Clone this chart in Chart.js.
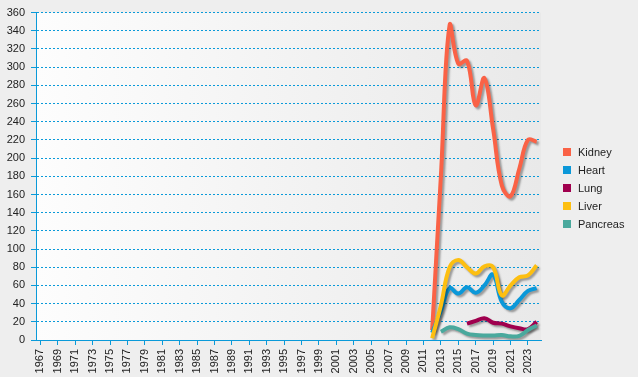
<!DOCTYPE html>
<html>
<head>
  <title>Organ Transplants</title>
  <script src="https://cdn.jsdelivr.net/npm/chart.js"></script>
  <style>
    html, body {
      margin: 0;
      padding: 0;
      background-color: #eeeeee;
      font-family: 'Liberation Sans', Arial, sans-serif;
    }

    .chart-container {
      position: relative;
      width: 638px;
      height: 377px;
    }

    .legend-container {
      position: absolute;
      left: 563px;
      top: 143px;
    }

    .legend-item {
      display: flex;
      align-items: center;
      height: 18px;
      font-size: 11px;
      color: #222;
    }

    .legend-color {
      width: 8px;
      height: 8px;
      margin-right: 7px;
    }
  </style>
</head>
<body>
  <div class="chart-container">
    <canvas id="organChart"></canvas>
    <div class="legend-container" id="legendContainer"></div>
  </div>

  <script>
    // Categories: one per year, labels shown on every other year
    const years = [];
    for (let y = 1967; y <= 2024; y++) years.push(String(y));

    // Values, each series starts at the given year
    const kidneyStart = 2012;
    const kidney = [11, 180, 346, 304, 307, 258, 288, 232, 170, 158, 188, 220, 218];
    const heartStart = 2012;
    const heart = [8, 32, 57, 51, 58, 52, 60, 72, 42, 35, 44, 54, 57];
    const lungStart = 2016;
    const lung = [18, 21, 24, 19, 18, 15, 13, 12, 20];
    const liverStart = 2012;
    const liver = [2, 38, 80, 88, 80, 73, 81, 80, 49, 60, 69, 71, 82];
    const pancreasStart = 2013;
    const pancreas = [9, 14, 12, 7, 5.5, 5, 5, 5.5, 4, 4.5, 11, 16];

    const seriesNames = ["Kidney", "Heart", "Lung", "Liver", "Pancreas"];
    const seriesColors = ["#fa6246", "#0b98d9", "#a0004e", "#fdbf11", "#4aa99d"];

    // place a series onto the year axis, empty before its first year
    function onYears(start, values) {
      const out = years.map(() => null);
      const first = years.indexOf(String(start));
      values.forEach((v, i) => { out[first + i] = v; });
      return out;
    }

    const seriesData = [
      onYears(kidneyStart, kidney),
      onYears(heartStart, heart),
      onYears(lungStart, lung),
      onYears(liverStart, liver),
      onYears(pancreasStart, pancreas)
    ];

    const blue = '#0a9ad9';

    // light gradient behind the plot area
    const plotBackground = {
      id: 'plotBackground',
      beforeDraw(chart) {
        const { ctx, chartArea } = chart;
        const g = ctx.createLinearGradient(chartArea.left, 0, chartArea.right, 0);
        g.addColorStop(0, '#fdfdfd');
        g.addColorStop(1, '#e9e9e9');
        ctx.save();
        ctx.fillStyle = g;
        ctx.fillRect(chartArea.left, chartArea.top, chartArea.right - chartArea.left, chartArea.bottom - chartArea.top);
        ctx.restore();
      }
    };

    // grey drop shadow under each line
    const lineShadow = {
      id: 'lineShadow',
      beforeDatasetDraw(chart) {
        const ctx = chart.ctx;
        ctx.save();
        ctx.shadowColor = 'rgba(0,0,0,0.35)';
        ctx.shadowBlur = 2;
        ctx.shadowOffsetX = 2;
        ctx.shadowOffsetY = 2;
      },
      afterDatasetDraw(chart) {
        chart.ctx.restore();
      }
    };

    const datasets = seriesNames.map((name, i) => ({
      label: name,
      data: seriesData[i],
      borderColor: seriesColors[i],
      backgroundColor: seriesColors[i],
      borderWidth: 4,
      pointRadius: 0,
      tension: 0.4,
      fill: false,
      order: seriesNames.length - i
    }));

    const ctx = document.getElementById('organChart').getContext('2d');

    new Chart(ctx, {
      type: 'line',
      data: { labels: years, datasets: datasets },
      plugins: [plotBackground, lineShadow],
      options: {
        responsive: true,
        maintainAspectRatio: false,
        animation: false,
        layout: { padding: { top: 12, right: 97, left: 0, bottom: 0 } },
        scales: {
          x: {
            type: 'category',
            offset: true,
            afterFit(scale) { scale.height = 37; },
            border: { color: blue, width: 1 },
            grid: {
              drawOnChartArea: false,
              offset: false,
              tickLength: 5,
              color: c => (c.index % 2 === 0 ? blue : 'rgba(0,0,0,0)'),
              tickColor: c => (c.index % 2 === 0 ? blue : 'rgba(0,0,0,0)')
            },
            ticks: {
              autoSkip: false,
              minRotation: 90,
              maxRotation: 90,
              padding: 4,
              color: '#222',
              font: { family: 'Liberation Sans', size: 11 },
              callback: function(value, index) {
                return index % 2 === 0 ? this.getLabelForValue(value) : '';
              }
            }
          },
          y: {
            min: 0,
            max: 360,
            afterFit(scale) { scale.width = 36; },
            border: { color: blue, width: 1, dash: [2, 2] },
            grid: {
              color: blue,
              tickColor: blue,
              tickLength: 5,
              tickBorderDash: []
            },
            ticks: {
              stepSize: 20,
              padding: 6,
              color: '#222',
              font: { family: 'Liberation Sans', size: 11 }
            }
          }
        },
        plugins: {
          legend: { display: false },
          tooltip: { enabled: false }
        }
      }
    });

    // Custom legend
    const legendContainer = document.getElementById('legendContainer');
    seriesNames.forEach((name, i) => {
      const item = document.createElement('div');
      item.className = 'legend-item';
      const box = document.createElement('div');
      box.className = 'legend-color';
      box.style.backgroundColor = seriesColors[i];
      const label = document.createElement('span');
      label.textContent = name;
      item.appendChild(box);
      item.appendChild(label);
      legendContainer.appendChild(item);
    });
  </script>
</body>
</html>
